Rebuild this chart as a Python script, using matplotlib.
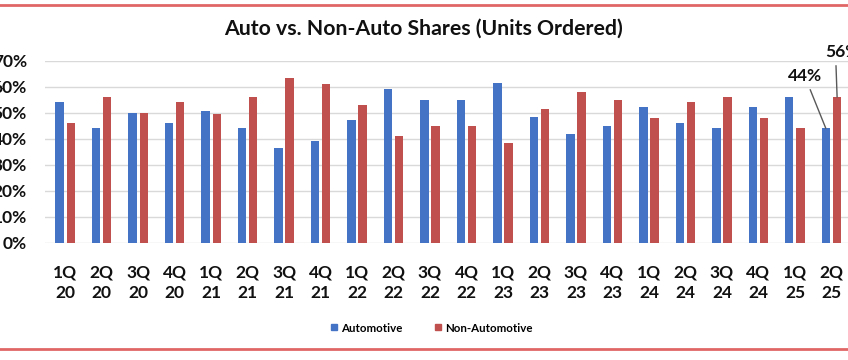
import matplotlib
matplotlib.use("Agg")
import matplotlib.pyplot as plt
from matplotlib.lines import Line2D
import numpy as np

categories = ["1Q\n20", "2Q\n20", "3Q\n20", "4Q\n20", "1Q\n21", "2Q\n21", "3Q\n21", "4Q\n21",
              "1Q\n22", "2Q\n22", "3Q\n22", "4Q\n22", "1Q\n23", "2Q\n23", "3Q\n23", "4Q\n23",
              "1Q\n24", "2Q\n24", "3Q\n24", "4Q\n24", "1Q\n25", "2Q\n25"]
automotive = [54, 44, 50, 46, 50.5, 44, 36.5, 39, 47, 59, 55, 55, 61.5, 48.5, 42, 45, 52, 46, 44, 52, 56, 44]
non_automotive = [46, 56, 50, 54, 49.5, 56, 63.5, 61, 53, 41, 45, 45, 38.5, 51.5, 58, 55, 48, 54, 56, 48, 44, 56]
yticks = [0, 10, 20, 30, 40, 50, 60, 70]

BLUE = "#4472C4"
RED = "#C0504D"
FONT = ["Lato", "DejaVu Sans"]
plt.rcParams["font.family"] = FONT

fig = plt.figure(figsize=(8.48, 3.6), dpi=100)
ax = fig.add_axes([45 / 848, 1 - 242.7 / 360, 1 - 45 / 848 + 0.002, (242.7 - 60.7) / 360])

x = np.arange(len(categories))
w = 0.23
off = 0.155
ax.bar(x - off, automotive, w, color=BLUE, zorder=3, label="Automotive")
ax.bar(x + off, non_automotive, w, color=RED, zorder=3, label="Non-Automotive")

ax.set_xlim(-0.55, 21.5)
ax.set_ylim(0, 70)
ax.set_yticks(yticks)
ax.set_yticklabels([f"{v}%" for v in yticks], fontsize=12.5, fontweight="bold", color="#111111")
ax.set_xticks(x)
ax.set_xticklabels(categories, fontsize=12.5, fontweight="bold", color="#111111", linespacing=1.3)
ax.tick_params(axis="both", length=0)
ax.tick_params(axis="y", pad=13)
ax.tick_params(axis="x", pad=16)
ax.grid(axis="y", color="#D9D9D9", linewidth=1, zorder=0)
for s in ax.spines.values():
    s.set_visible(False)

# annotations for last quarter
ax.annotate(f"{automotive[-1]:.0f}%", xy=(x[-1] - off, automotive[-1]), xytext=(20.27, 64),
            ha="center", va="center", fontsize=12.5, fontweight="bold", color="#111111",
            annotation_clip=False,
            arrowprops=dict(arrowstyle="-", color="#595959", lw=1, shrinkA=2, shrinkB=0))
ax.annotate(f"{non_automotive[-1]:.0f}%", xy=(x[-1] + off, non_automotive[-1]), xytext=(21.3, 73.3),
            ha="center", va="center", fontsize=12.5, fontweight="bold", color="#111111",
            annotation_clip=False,
            arrowprops=dict(arrowstyle="-", color="#595959", lw=1, shrinkA=2, shrinkB=0,
                            relpos=(0.3, 0.5)))

fig.text(0.5, 1 - 29 / 360, "Auto vs. Non-Auto Shares (Units Ordered)", ha="center", va="center",
         fontsize=15.3, fontweight="bold", color="#111111")

handles = [Line2D([], [], marker="s", linestyle="", color=BLUE, markersize=5),
           Line2D([], [], marker="s", linestyle="", color=RED, markersize=5)]
fig.legend(handles, ["Automotive", "Non-Automotive"], loc="center", bbox_to_anchor=(0.508, 1 - 328 / 360),
           ncol=2, frameon=False, prop={"size": 8.3, "weight": "bold", "family": FONT},
           handletextpad=0.1, columnspacing=2.6, handlelength=1.0)

# red frame lines
for yy in (1 - 5 / 360, 1 - 348.7 / 360):
    fig.add_artist(Line2D([0, 1], [yy, yy], transform=fig.transFigure, color="#E06666", lw=2))

fig.savefig("out.png", dpi=100)
